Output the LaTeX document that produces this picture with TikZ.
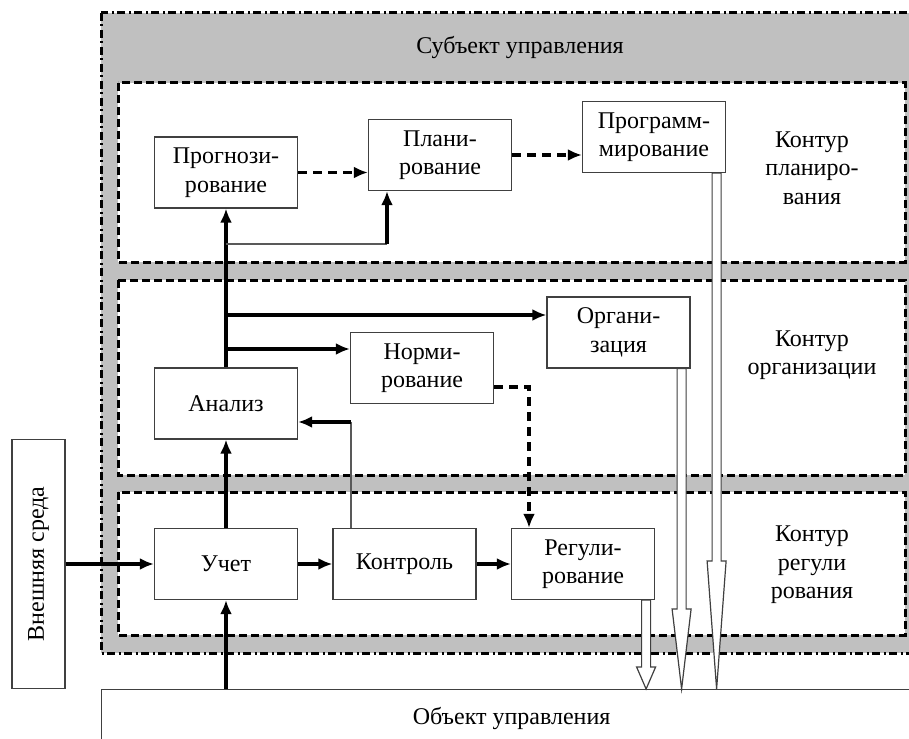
\documentclass[tikz,border=0pt]{standalone}
\usepackage{fontspec}
\setmainfont{Liberation Serif}
\usepackage{tikz}
\usetikzlibrary{calc, arrows.meta, positioning}

\definecolor{bandgray}{RGB}{192,192,192}
\tikzset{
    block/.style={draw=black!75, line width=1.2pt, fill=white, minimum width=143pt,
        minimum height=71pt, align=center, inner sep=2pt},
    flow/.style={->, line width=3.2pt},
    dflow/.style={->, line width=3.2pt, dash pattern=on 9pt off 6pt},
    thinline/.style={draw=black!65, line width=1.3pt},
    contour/.style={fill=white, line width=3pt, dash pattern=on 8pt off 4pt},
    hollow/.style={draw=black!75, line width=1.2pt, fill=white},
    label/.style={align=center}
}
% hollow arrow from a point down to the top of the object box
\newcommand{\hollowarrow}[2]{%
    \draw[hollow] let \p1=(#1), \p2=(obj.north) in
        (\x1-4.5pt,\y1) -- (\x1-4.5pt,\y2+#2) -- (\x1-9.5pt,\y2+#2) -- (\x1,\y2)
        -- (\x1+9.5pt,\y2+#2) -- (\x1+4.5pt,\y2+#2) -- (\x1+4.5pt,\y1) -- cycle;}

\begin{document}
\begin{tikzpicture}[x=1pt, y=-1pt, >={Latex[length=14pt,width=12pt]},
    font=\fontsize{24}{28.5}\selectfont]
    \useasboundingbox (0,0) rectangle (909,738);

    % Субъект управления
    \fill[bandgray] (101,13) rectangle (918,653);
    \draw[contour] (118,83) rectangle (905,262);
    \draw[contour] (118,280) rectangle (905,475);
    \draw[contour] (118,492) rectangle (905,635);
    \draw[line width=3pt, dash pattern=on 8pt off 3.5pt on 2pt off 3.5pt]
        (101,13) rectangle (918,653);
    \node[label] (subj) at (520,48) {Субъект управления};

    % подписи контуров
    \node[label] (kplan) at (812,168) {Контур\\планиро-\\вания};
    \node[label] (korg) at (812,355) {Контур\\организации};
    \node[label] (kreg) at (812,565) {Контур\\регули\\рования};

    % блоки
    \node[block] (prog) at (226,172.5) {Прогнози-\\рование};
    \node[block] (plan) at (440,155) {Плани-\\рование};
    \node[block] (programm) at (654,137) {Программ-\\мирование};
    \node[block] (org) at (618.5,332.5) {Органи-\\зация};
    \node[block] (norm) at (422,368) {Норми-\\рование};
    \node[block] (analiz) at (226,403.5) {Анализ};
    \node[block] (uchet) at (226,564) {Учет};
    \node[block] (kontr) at (404.5,564) {Контроль};
    \node[block] (regul) at (583,564) {Регули-\\рование};

    % внешняя среда и объект
    \node[block, rotate=90, minimum width=249pt, minimum height=53pt] (vnesh)
        at (38.5,564) {Внешняя среда};
    \node[block, minimum width=820pt, minimum height=58pt, anchor=north west]
        (obj) at (101,689) {Объект управления};

    % связи
    \coordinate (b1) at (226,244);
    \coordinate (b1e) at (387,244);
    \coordinate (b2) at (226,315);
    \coordinate (b3) at (226,349);
    \coordinate (k1) at (351,422);
    \coordinate (n1) at (529,387);

    \draw[flow] (vnesh) -- (uchet);
    \draw[flow] (obj.north -| uchet.south) -- (uchet.south);
    \draw[flow] (uchet) -- (analiz);
    \draw[flow] (analiz) -- (prog);
    \draw[thinline] (b1) -- (b1e);
    \draw[flow] (b1e) -- (b1e |- plan.south);
    \draw[flow] (b2) -- (b2 -| org.west);
    \draw[flow] (b3) -- (b3 -| norm.west);
    \draw[flow] (uchet) -- (kontr);
    \draw[flow] (kontr) -- (regul);
    \draw[thinline] (kontr.north -| k1) -- (k1);
    \draw[flow] (k1) -- (k1 -| analiz.east);
    \draw[dflow] (prog.east) -- (prog.east -| plan.west);
    \draw[dflow] (plan.east) -- (plan.east -| programm.west);
    \draw[dflow] (norm.east |- n1) -- (n1) -- (n1 |- regul.north);

    % полые стрелки к объекту
    \hollowarrow{$(programm.south east)+(-9.5,0)$}{128pt}
    \hollowarrow{$(org.south east)+(-9,0)$}{80pt}
    \hollowarrow{$(regul.south east)+(-9,0)$}{22pt}
\end{tikzpicture}
\end{document}
